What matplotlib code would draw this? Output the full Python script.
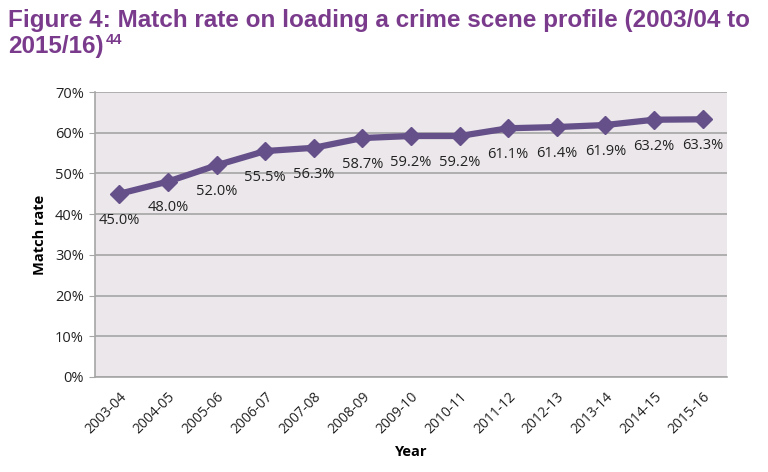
import matplotlib.pyplot as plt
import numpy as np

years = ['2003-04', '2004-05', '2005-06', '2006-07', '2007-08', '2008-09', '2009-10',
         '2010-11', '2011-12', '2012-13', '2013-14', '2014-15', '2015-16']
match_rate = [45.0, 48.0, 52.0, 55.5, 56.3, 58.7, 59.2, 59.2, 61.1, 61.4, 61.9, 63.2, 63.3]
y_ticks = [0, 10, 20, 30, 40, 50, 60, 70]

purple = '#65508a'
title_col = '#7a3b8c'
grid_col = '#a6a6a6'
body_font = ['Open Sans', 'DejaVu Sans']
title_font = ['Liberation Sans Narrow', 'Liberation Sans']

fig = plt.figure(figsize=(7.68, 4.72), dpi=100)
ax = fig.add_axes([0.1237, 0.2013, 0.8229, 0.6037])
ax.set_facecolor('#ebe7ea')

x = np.arange(len(years))
ax.plot(x, match_rate, color=purple, lw=4.5, marker='D', markersize=9, zorder=3)
for xi, v in zip(x, match_rate):
    ax.annotate(f'{v:.1f}%', (xi, v), xytext=(0, -19), textcoords='offset points',
                ha='center', va='center', fontsize=10.5, color='#222222', family=body_font)

ax.set_xlim(-0.5, len(years) - 0.5)
ax.set_ylim(0, 70)
ax.set_yticks(y_ticks)
ax.set_yticklabels([f'{t}%' for t in y_ticks], family=body_font, fontsize=10.5, color='#222222')
ax.set_xticks(x)
ax.set_xticklabels(years, rotation=45, ha='right', rotation_mode='anchor',
                   family=body_font, fontsize=10, color='#222222')
ax.tick_params(axis='x', length=0, pad=9)
ax.tick_params(axis='y', length=4, color=grid_col, pad=4)
ax.grid(axis='y', color=grid_col, lw=1.2)
ax.set_axisbelow(True)
for s in ['top', 'right']:
    ax.spines[s].set_visible(False)
for s in ['left', 'bottom']:
    ax.spines[s].set_color(grid_col)
    ax.spines[s].set_linewidth(1.2)

ax.set_ylabel('Match rate', family=body_font, fontsize=10.5, fontweight='bold', labelpad=6)
ax.set_xlabel('Year', family=body_font, fontsize=10.5, fontweight='bold', labelpad=6)

fig.text(0.011, 0.943, 'Figure 4: Match rate on loading a crime scene profile (2003/04 to',
         ha='left', va='baseline', fontsize=17.5, fontweight='bold', color=title_col,
         family=title_font)
t2 = fig.text(0.011, 0.887, '2015/16)', ha='left', va='baseline', fontsize=17.5,
              fontweight='bold', color=title_col, family=title_font)
ax.annotate('44', xy=(1, 1), xycoords=t2, xytext=(1, 2), textcoords='offset points',
            ha='left', va='top', fontsize=10.5, fontweight='bold', color=title_col,
            family=title_font)

fig.savefig('out.png', dpi=100)
